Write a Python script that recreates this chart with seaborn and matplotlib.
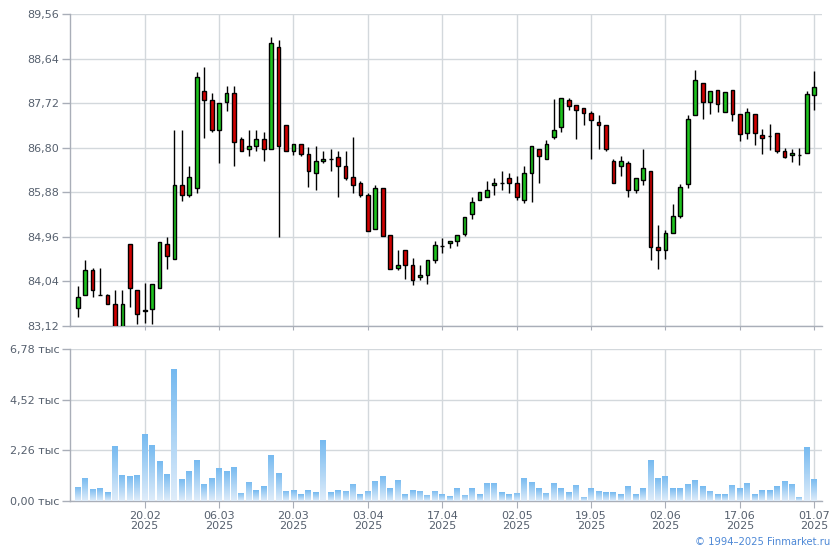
import numpy as np
import pandas as pd
import matplotlib
matplotlib.use("Agg")
import matplotlib.pyplot as plt
from matplotlib.colors import LinearSegmentedColormap
import seaborn as sns

# daily candles, 07.02.2025 .. 01.07.2025 (trading days)
opens = [83.50, 83.77, 84.27, 83.77, 83.77, 83.57, 83.05, 84.82, 83.87, 83.42,
         83.48, 83.91, 84.82, 84.51, 86.04, 85.83, 85.98, 87.97, 87.79, 87.17,
         87.75, 87.93, 86.99, 86.77, 86.84, 86.99, 86.78, 88.89, 87.27, 86.74,
         86.88, 86.68, 86.29, 86.53, 86.57, 86.61, 86.43, 86.19, 86.08, 85.83,
         85.12, 85.98, 84.99, 84.32, 84.68, 84.39, 84.14, 84.18, 84.49, 84.77,
         84.84, 84.88, 85.02, 85.44, 85.73, 85.79, 86.03, 86.08, 86.18, 86.08,
         85.72, 86.28, 86.78, 86.57, 87.02, 87.23, 87.79, 87.69, 87.62, 87.52,
         87.34, 87.27, 86.53, 86.43, 86.49, 85.93, 86.14, 86.33, 84.76, 84.70,
         85.05, 85.40, 86.06, 87.48, 88.14, 87.75, 87.99, 87.54, 87.99, 87.50,
         87.11, 87.50, 87.07, 87.05, 87.11, 86.74, 86.65, 86.66, 86.70, 87.89]
highs = [83.94, 84.49, 84.31, 84.31, 83.79, 83.86, 83.87, 84.82, 83.87, 84.01,
         83.98, 84.86, 84.96, 87.17, 87.17, 86.43, 88.37, 88.48, 87.93, 87.73,
         88.08, 88.08, 87.02, 87.17, 87.17, 87.13, 89.09, 89.02, 87.27, 86.88,
         86.88, 86.82, 86.84, 86.74, 86.78, 86.74, 86.74, 87.03, 86.11, 85.87,
         86.04, 85.98, 84.99, 84.69, 84.68, 84.53, 84.39, 84.49, 84.88, 84.93,
         84.88, 84.99, 85.38, 85.79, 85.88, 86.12, 86.18, 86.33, 86.28, 86.22,
         86.43, 86.84, 86.78, 86.96, 87.82, 87.83, 87.83, 87.69, 87.62, 87.56,
         87.48, 87.27, 86.57, 86.63, 86.53, 86.18, 86.78, 86.33, 85.21, 85.11,
         85.65, 86.06, 87.48, 88.41, 88.14, 87.97, 87.99, 87.95, 87.99, 87.50,
         87.62, 87.50, 87.19, 87.29, 87.11, 86.80, 86.78, 86.80, 87.97, 88.39]
lows = [83.31, 83.77, 83.71, 83.77, 83.57, 83.00, 83.00, 83.52, 83.16, 83.19,
        83.16, 83.91, 84.30, 84.51, 85.71, 85.78, 85.87, 87.00, 87.12, 86.49,
        87.57, 86.42, 86.74, 86.63, 86.73, 86.53, 86.78, 84.96, 86.74, 86.66,
        86.63, 85.99, 85.93, 86.48, 86.33, 85.78, 86.13, 85.87, 85.78, 85.09,
        85.12, 84.98, 84.29, 84.27, 84.09, 83.97, 84.07, 83.99, 84.42, 84.63,
        84.73, 84.77, 84.98, 85.33, 85.73, 85.79, 85.83, 85.93, 85.87, 85.72,
        85.67, 85.68, 86.07, 86.57, 86.98, 87.12, 87.58, 86.98, 87.27, 86.57,
        86.77, 86.73, 86.08, 86.22, 85.78, 85.87, 86.03, 84.49, 84.30, 84.51,
        85.05, 85.35, 85.98, 87.48, 87.40, 87.50, 87.54, 87.54, 87.36, 86.94,
        86.99, 86.86, 86.68, 86.76, 86.70, 86.59, 86.51, 86.45, 86.70, 87.58]
closes = [83.71, 84.27, 83.87, 83.77, 83.57, 83.05, 83.57, 83.91, 83.36, 83.46,
          83.98, 84.86, 84.57, 86.04, 85.83, 86.19, 88.26, 87.79, 87.17, 87.73,
          87.93, 86.92, 86.74, 86.84, 86.99, 86.78, 88.96, 86.83, 86.74, 86.88,
          86.68, 86.33, 86.53, 86.58, 86.57, 86.42, 86.18, 86.04, 85.83, 85.09,
          85.98, 84.98, 84.29, 84.39, 84.39, 84.08, 84.18, 84.49, 84.80, 84.77,
          84.88, 84.99, 85.38, 85.69, 85.88, 85.94, 86.08, 86.08, 86.08, 85.79,
          86.28, 86.84, 86.63, 86.88, 87.17, 87.83, 87.67, 87.58, 87.52, 87.38,
          87.28, 86.78, 86.08, 86.53, 85.93, 86.18, 86.39, 84.75, 84.68, 85.05,
          85.40, 86.00, 87.40, 88.20, 87.75, 87.97, 87.71, 87.95, 87.50, 87.09,
          87.54, 87.11, 87.01, 87.05, 86.74, 86.61, 86.70, 86.66, 87.91, 88.06]
# volume, thousands
volumes = [0.63, 1.03, 0.54, 0.58, 0.40, 2.47, 1.17, 1.12, 1.17, 3.01,
           2.51, 1.80, 1.21, 5.88, 0.99, 1.35, 1.84, 0.76, 1.03, 1.48,
           1.35, 1.53, 0.36, 0.85, 0.49, 0.67, 2.07, 1.26, 0.45, 0.49,
           0.31, 0.49, 0.40, 2.74, 0.40, 0.49, 0.45, 0.76, 0.31, 0.45,
           0.90, 1.12, 0.58, 0.94, 0.31, 0.49, 0.45, 0.27, 0.45, 0.31,
           0.22, 0.58, 0.27, 0.58, 0.31, 0.81, 0.81, 0.40, 0.31, 0.36,
           1.03, 0.85, 0.58, 0.36, 0.81, 0.58, 0.40, 0.72, 0.18, 0.58,
           0.45, 0.40, 0.40, 0.31, 0.67, 0.31, 0.58, 1.84, 1.03, 1.12,
           0.58, 0.58, 0.76, 0.94, 0.67, 0.45, 0.31, 0.31, 0.72, 0.58,
           0.81, 0.31, 0.49, 0.49, 0.67, 0.90, 0.76, 0.18, 2.42, 0.99]

date_tick_pos = [9, 19, 29, 39, 49, 59, 69, 79, 89, 99]
date_tick_labels = ["20.02", "06.03", "20.03", "03.04", "17.04",
                    "02.05", "19.05", "02.06", "17.06", "01.07"]
price_ticks = [83.12, 84.04, 84.96, 85.88, 86.80, 87.72, 88.64, 89.56]
vol_ticks = [0.0, 2.26, 4.52, 6.78]

df = pd.DataFrame({"open": opens, "high": highs, "low": lows,
                   "close": closes, "volume": volumes})
df["pos"] = np.arange(len(df))

sns.set_style("white")
plt.rcParams["font.family"] = ["DejaVu Sans"]

GRID = "#d3d8dc"
SPINE = "#a9aeb8"
LABEL = "#56606e"

fig = plt.figure(figsize=(8.4, 5.5), dpi=100)
W, H = 840, 550
ax_p = fig.add_axes([70.3 / W, 1 - 326 / H, (821.7 - 70.3) / W, (326 - 14.3) / H])
ax_v = fig.add_axes([70.3 / W, 1 - 501 / H, (821.7 - 70.3) / W, (501 - 349.3) / H])

# candles
body_colors = np.where(df["close"] > df["open"], "#1ec31e", "#d00000")
ax_p.vlines(df["pos"], df["low"], df["high"], color="black", linewidth=1, zorder=3)
ax_p.bar(df["pos"], df["close"] - df["open"], bottom=df["open"], width=0.5,
         color=body_colors, edgecolor="black", linewidth=1, zorder=4)

# volume bars with vertical gradient
sns.barplot(data=df, x="pos", y="volume", native_scale=True, width=0.8,
            color="#7abdf0", linewidth=0, ax=ax_v)
cmap = LinearSegmentedColormap.from_list("vol", ["#e0edfa", "#74b9f0"])
grad = np.linspace(0, 1, 128)[:, None]
for patch in list(ax_v.patches):
    x0, y0 = patch.get_x(), patch.get_y()
    w, h = patch.get_width(), patch.get_height()
    im = ax_v.imshow(grad, cmap=cmap, origin="lower", aspect="auto",
                     extent=(x0, x0 + w, y0, y0 + h), zorder=3)
    im.set_clip_path(patch)
    patch.set_facecolor("none")

for ax in (ax_p, ax_v):
    ax.set_xlim(-1, 100)
    ax.set_xticks(date_tick_pos)
    ax.grid(True, color=GRID, linewidth=1)
    ax.set_axisbelow(True)
    for s in ("top", "right"):
        ax.spines[s].set_visible(False)
    for s in ("left", "bottom"):
        ax.spines[s].set_color(SPINE)
        ax.spines[s].set_linewidth(1)
    ax.tick_params(axis="y", length=6, width=1, color=SPINE, labelcolor=LABEL,
                   labelsize=8, pad=2, left=True)
    ax.set_xlabel("")
    ax.set_ylabel("")

ax_p.set_ylim(83.12, 89.56)
ax_p.set_yticks(price_ticks)
ax_p.set_yticklabels([f"{t:.2f}".replace(".", ",") for t in price_ticks])
ax_p.tick_params(axis="x", length=3, color=SPINE, bottom=True, labelbottom=False)

ax_v.set_ylim(0, 6.78)
ax_v.set_yticks(vol_ticks)
ax_v.set_yticklabels([f"{t:.2f}".replace(".", ",") + " тыс" for t in vol_ticks])
ax_v.set_xticklabels([f"{d}\n2025" for d in date_tick_labels], linespacing=1.05)
ax_v.tick_params(axis="x", length=5, color=SPINE, labelcolor=LABEL,
                 labelsize=8, pad=2, bottom=True)

fig.text(0.988, 1 - 545 / H, "© 1994–2025 Finmarket.ru", color="#4d88d6",
         fontsize=7.2, ha="right", va="baseline")

fig.savefig("out.png", dpi=100)
